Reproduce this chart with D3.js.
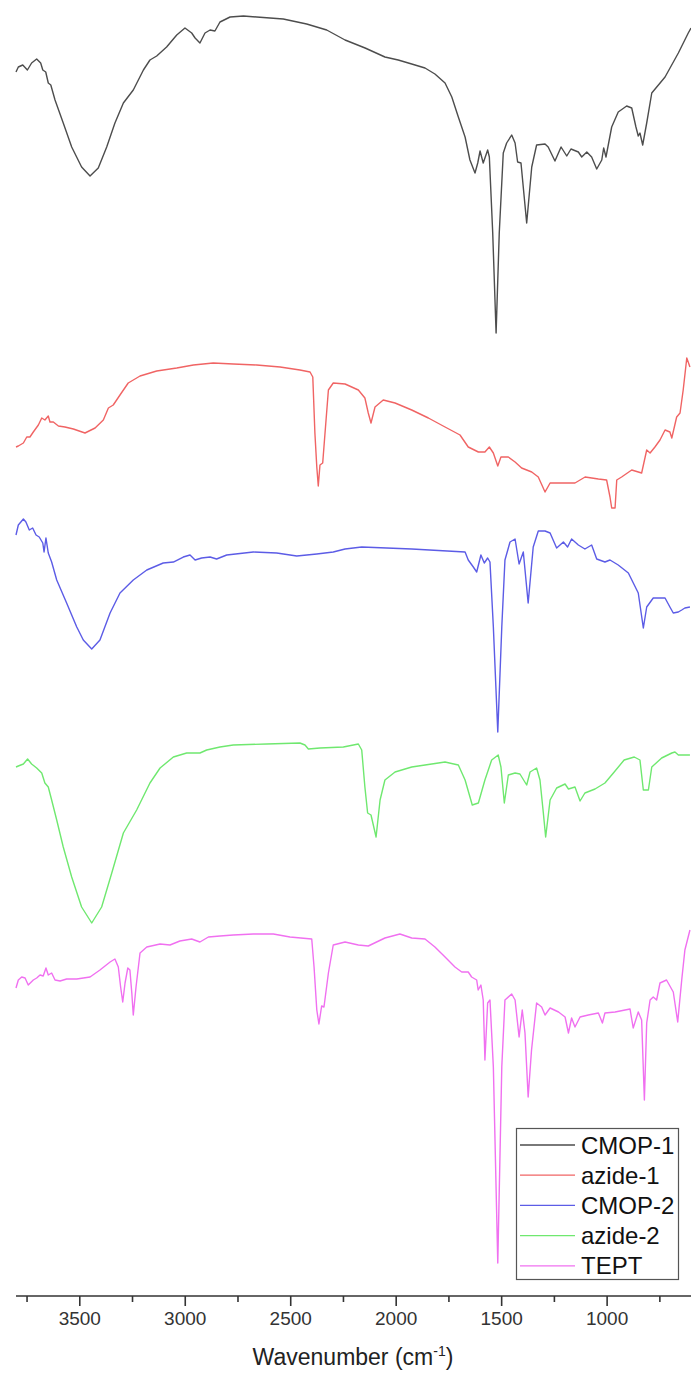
<!DOCTYPE html>
<html>
<head>
<meta charset="utf-8">
<script src="https://cdn.jsdelivr.net/npm/d3@7"></script>
<style>
  html, body { margin: 0; padding: 0; background: #ffffff; }
  svg { display: block; }
</style>
</head>
<body>
<svg id="chart" width="691" height="1383"></svg>
<script>
// ---- Data (wavenumber cm^-1, offset transmittance a.u.) ----
const seriesNames = ["CMOP-1", "azide-1", "CMOP-2", "azide-2", "TEPT"];
const xTicksMajor = [3500, 3000, 2500, 2000, 1500, 1000];
const xTicksMinor = [3750, 3250, 2750, 2250, 1750, 1250, 750];

const cmop1 = [
[3800,122.4],[3789,122.9],[3768,123.1],[3746,122.6],[3726,123.3],[3702,123.7],[3683,123.3],[3673,122.6],
[3659,122.4],[3647,121.3],[3635,121.1],[3615,119.6],[3576,117.3],[3536,114.9],[3489,112.9],[3449,112.0],
[3410,112.8],[3370,114.9],[3331,117.3],[3291,119.3],[3244,120.6],[3196,122.6],[3165,123.6],[3133,124.0],
[3086,124.9],[3038,126.1],[2999,126.8],[2967,126.3],[2951,125.8],[2928,125.3],[2904,126.3],[2880,126.6],
[2857,126.5],[2833,127.4],[2785,127.9],[2722,128.0],[2659,127.9],[2533,127.7],[2422,127.2],[2327,126.6],
[2240,125.6],[2145,124.8],[2051,123.9],[1988,123.6],[1924,123.2],[1861,122.8],[1814,122.2],[1766,121.3],
[1734,119.9],[1703,117.9],[1671,115.9],[1648,113.6],[1624,112.3],[1611,113.3],[1600,114.5],[1585,113.3],
[1564,114.6],[1556,113.9],[1540,106.3],[1524,96.3],[1509,106.3],[1490,114.3],[1474,115.3],[1450,116.1],
[1434,115.3],[1422,113.4],[1406,113.3],[1379,107.3],[1355,112.9],[1332,115.1],[1292,115.2],[1277,114.9],
[1245,113.5],[1216,114.9],[1189,114.0],[1169,114.7],[1134,114.4],[1118,113.9],[1094,114.4],[1071,113.9],
[1047,112.7],[1023,113.6],[1014,114.8],[1003,113.9],[976,116.9],[945,118.4],[905,119.0],[881,118.8],
[861,116.9],[850,116.0],[842,116.3],[829,115.1],[810,117.3],[786,120.3],[723,121.9],[660,124.3],
[613,126.3],[600,126.8]
];

const azide1 = [
[3800,84.9],[3789,85.0],[3765,85.3],[3749,85.9],[3734,85.9],[3718,86.4],[3694,87.1],[3678,87.8],
[3663,87.6],[3647,88.0],[3639,87.4],[3623,87.4],[3599,87.0],[3568,86.9],[3528,86.7],[3473,86.3],
[3425,86.8],[3386,87.6],[3362,88.8],[3339,89.1],[3307,90.1],[3268,91.3],[3212,92.0],[3133,92.5],
[3038,92.8],[2959,93.1],[2865,93.3],[2770,93.2],[2659,93.1],[2548,92.9],[2454,92.6],[2406,92.4],
[2393,91.9],[2383,86.3],[2374,82.9],[2367,81.0],[2359,83.1],[2346,83.3],[2335,86.3],[2319,90.6],
[2296,91.3],[2240,91.2],[2177,90.6],[2146,89.8],[2130,88.3],[2117,87.3],[2098,88.9],[2059,89.6],
[2003,89.3],[1924,88.6],[1845,87.8],[1766,86.9],[1695,86.1],[1656,84.9],[1608,84.4],[1577,84.4],
[1556,84.9],[1537,84.3],[1516,83.0],[1501,83.9],[1466,83.9],[1434,83.4],[1403,82.8],[1355,82.4],
[1324,81.9],[1292,80.4],[1268,81.3],[1213,81.3],[1150,81.3],[1102,81.9],[1039,81.7],[1000,81.6],
[984,79.9],[976,78.8],[960,78.8],[952,81.6],[929,81.9],[881,82.6],[834,82.3],[810,84.6],
[794,84.3],[771,84.9],[747,85.6],[723,86.6],[700,86.4],[691,85.8],[668,87.9],[652,88.3],
[637,90.6],[620,93.8],[605,92.9]
];

const cmop2 = [
[3800,76.1],[3789,77.1],[3765,77.7],[3753,77.4],[3737,76.6],[3721,76.8],[3705,76.1],[3690,75.9],
[3673,75.3],[3667,74.4],[3658,75.8],[3647,74.3],[3631,73.4],[3607,71.6],[3560,69.3],[3512,66.9],
[3481,65.6],[3441,64.7],[3402,65.6],[3354,68.3],[3307,70.3],[3244,71.6],[3180,72.6],[3102,73.3],
[3054,73.4],[3007,73.9],[2975,74.1],[2951,73.6],[2920,73.8],[2880,73.9],[2849,73.7],[2801,74.1],
[2675,74.4],[2564,74.3],[2469,74.0],[2374,74.2],[2296,74.4],[2240,74.7],[2161,74.9],[1924,74.7],
[1671,74.4],[1656,73.6],[1632,72.9],[1616,72.4],[1596,74.1],[1580,73.3],[1564,73.8],[1553,73.4],
[1537,66.9],[1516,56.4],[1497,66.9],[1482,73.6],[1458,75.4],[1434,75.7],[1415,73.2],[1395,74.4],
[1372,69.3],[1348,74.9],[1324,76.5],[1292,76.5],[1268,76.3],[1237,74.8],[1205,75.4],[1185,74.9],
[1166,75.7],[1134,75.1],[1103,74.7],[1071,75.1],[1047,73.7],[1008,73.4],[984,73.6],[945,73.1],
[897,72.3],[850,70.3],[826,66.8],[810,68.9],[779,69.8],[747,69.8],[723,69.8],[700,68.9],
[684,68.3],[660,68.4],[644,68.6],[629,68.8],[605,68.9]
];

const azide2 = [
[3800,52.9],[3789,53.0],[3765,53.2],[3745,53.7],[3726,53.2],[3702,52.8],[3678,52.3],[3663,51.3],
[3647,50.9],[3631,49.6],[3607,47.6],[3576,44.9],[3536,41.9],[3489,38.9],[3441,37.3],[3394,38.9],
[3346,42.3],[3291,46.3],[3228,48.6],[3165,51.3],[3117,52.8],[3054,53.9],[2991,54.3],[2928,54.3],
[2896,54.6],[2833,54.9],[2770,55.1],[2611,55.2],[2454,55.3],[2430,55.1],[2414,54.7],[2359,54.8],
[2248,54.9],[2177,55.2],[2161,54.6],[2146,50.9],[2133,48.3],[2117,48.1],[2093,45.9],[2074,49.6],
[2051,51.6],[2003,52.4],[1924,52.9],[1829,53.2],[1766,53.4],[1703,53.1],[1671,51.6],[1637,49.1],
[1608,49.3],[1577,51.6],[1545,53.6],[1514,54.1],[1501,52.9],[1485,49.3],[1466,52.1],[1434,52.3],
[1411,52.2],[1379,51.1],[1363,52.4],[1332,52.8],[1316,51.6],[1300,48.3],[1289,45.9],[1268,49.6],
[1237,50.8],[1197,51.2],[1181,50.7],[1150,50.9],[1126,49.5],[1103,50.3],[1055,50.7],[1008,51.3],
[964,52.4],[917,53.6],[869,53.9],[842,53.6],[826,50.6],[802,50.6],[786,52.9],[739,53.8],
[691,54.3],[676,54.4],[660,54.1],[605,54.1]
];

const tept = [
[3800,30.8],[3789,31.6],[3773,31.9],[3757,31.8],[3742,31.1],[3718,31.6],[3702,31.8],[3686,32.1],
[3671,32.0],[3658,32.8],[3647,32.1],[3631,32.3],[3615,31.6],[3591,31.5],[3560,31.7],[3512,31.7],
[3449,31.9],[3402,32.6],[3354,33.4],[3331,33.7],[3315,32.9],[3304,30.9],[3294,29.4],[3283,31.3],
[3270,32.8],[3260,32.6],[3251,30.3],[3244,28.1],[3231,30.9],[3212,34.3],[3180,34.9],[3117,35.2],
[3070,35.1],[3023,35.5],[2967,35.7],[2928,35.4],[2888,35.9],[2833,36.0],[2770,36.1],[2675,36.2],
[2580,36.2],[2501,35.9],[2398,35.7],[2387,32.9],[2374,28.6],[2364,27.2],[2351,29.0],[2340,28.9],
[2319,32.3],[2296,35.1],[2240,35.4],[2177,35.1],[2130,35.0],[2051,35.8],[1980,36.2],[1924,35.8],
[1861,35.7],[1814,34.9],[1766,33.9],[1719,32.9],[1687,32.4],[1656,32.4],[1640,31.9],[1616,31.6],
[1609,30.6],[1596,31.1],[1585,29.6],[1577,23.6],[1564,29.3],[1553,29.6],[1537,22.9],[1516,3.3],
[1497,22.9],[1482,29.6],[1450,30.2],[1434,29.6],[1415,25.9],[1400,28.6],[1387,26.3],[1372,19.9],
[1356,24.6],[1332,29.3],[1308,28.9],[1292,28.1],[1268,28.8],[1228,28.4],[1197,27.9],[1181,26.3],
[1166,27.8],[1150,26.9],[1126,27.9],[1087,28.1],[1039,28.3],[1020,27.3],[1008,28.3],[960,28.4],
[889,28.7],[874,26.8],[850,28.4],[834,27.6],[821,19.6],[810,27.3],[794,29.6],[779,29.9],
[763,29.6],[747,31.3],[716,31.6],[684,30.4],[663,27.4],[644,31.6],[629,34.6],[605,36.6]
];

const seriesData = [cmop1, azide1, cmop2, azide2, tept];
const seriesColors = ["#4d4d4d", "#f06464", "#5c5ce6", "#6fe86f", "#f070f0"];

// ---- Layout ----
const svg = d3.select("#chart");
const x = d3.scaleLinear().domain([3800, 600]).range([16, 691]);
const y = d3.scaleLinear().domain([0, 129.6]).range([1296, 0]);
const axisY = 1296;

// ---- Spectra ----
const line = d3.line().x(d => x(d[0])).y(d => y(d[1])).curve(d3.curveLinear);
svg.append("g").selectAll("path")
  .data(seriesData)
  .join("path")
  .attr("d", line)
  .attr("fill", "none")
  .attr("stroke", (d, i) => seriesColors[i])
  .attr("stroke-width", 1.4)
  .attr("stroke-linejoin", "round");

// ---- X axis ----
const gx = svg.append("g").attr("transform", `translate(0,${axisY})`);
gx.append("line").attr("x1", 16).attr("x2", 691).attr("y1", 0).attr("y2", 0)
  .attr("stroke", "#333").attr("stroke-width", 1.6);
const majorAxis = d3.axisBottom(x).tickValues(xTicksMajor).tickSize(10).tickPadding(6).tickFormat(d3.format("d"));
const gMaj = svg.append("g").attr("transform", `translate(0,${axisY})`).call(majorAxis);
gMaj.select(".domain").remove();
gMaj.selectAll(".tick line").attr("stroke", "#333").attr("stroke-width", 1.6);
gMaj.selectAll(".tick text").attr("font-family", "Liberation Sans, Arial, sans-serif")
  .attr("font-size", 19).attr("fill", "#333");
const minorAxis = d3.axisBottom(x).tickValues(xTicksMinor).tickSize(6).tickFormat("");
const gMin = svg.append("g").attr("transform", `translate(0,${axisY})`).call(minorAxis);
gMin.select(".domain").remove();
gMin.selectAll(".tick line").attr("stroke", "#333").attr("stroke-width", 1.6);

// ---- Axis title ----
const title = svg.append("text")
  .attr("x", 353).attr("y", 1365)
  .attr("text-anchor", "middle")
  .attr("font-family", "Liberation Sans, Arial, sans-serif")
  .attr("font-size", 23).attr("fill", "#222");
title.append("tspan").text("Wavenumber (cm");
title.append("tspan").attr("font-size", 14).attr("dy", -9).text("-1");
title.append("tspan").attr("dy", 9).text(")");

// ---- Legend ----
const lg = svg.append("g");
lg.append("rect").attr("x", 516.5).attr("y", 1128.5).attr("width", 162).attr("height", 151)
  .attr("fill", "#fff").attr("stroke", "#555").attr("stroke-width", 1.2);
const rows = lg.selectAll("g.row").data(seriesNames).join("g").attr("class", "row")
  .attr("transform", (d, i) => `translate(0,${1145 + i * 30.2})`);
rows.append("line").attr("x1", 520).attr("x2", 575).attr("y1", 0).attr("y2", 0)
  .attr("stroke", (d, i) => seriesColors[i]).attr("stroke-width", 1.3);
rows.append("text").attr("x", 581).attr("y", 0).attr("dy", "0.36em")
  .attr("font-family", "Liberation Sans, Arial, sans-serif")
  .attr("font-size", 24).attr("fill", "#111").text(d => d);
</script>
</body>
</html>
